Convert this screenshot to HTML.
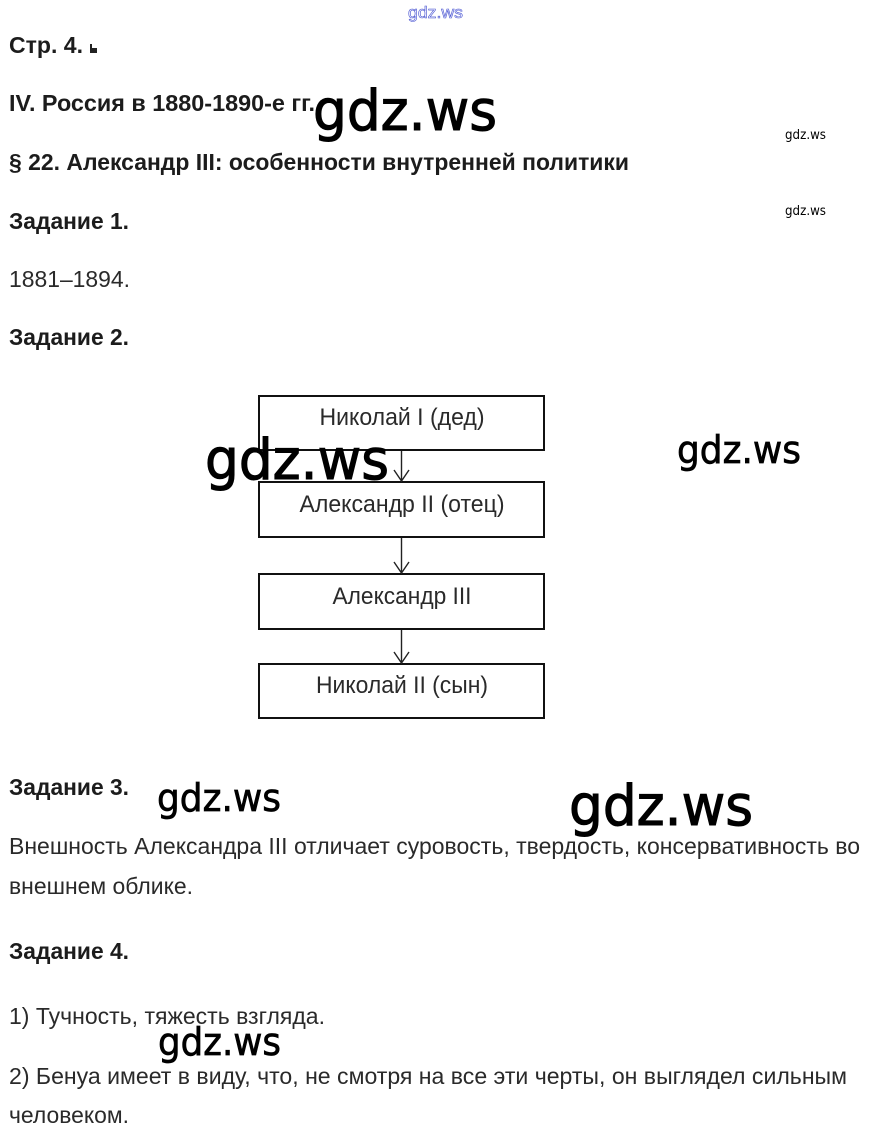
<!DOCTYPE html>
<html lang="ru">
<head>
<meta charset="utf-8">
<title>Александр III</title>
<style>
html,body{margin:0;padding:0;background:#fff;width:869px;height:1140px;overflow:hidden}
svg{display:block}
text{font-family:"Liberation Sans","DejaVu Sans",sans-serif;fill:#1c1c1c}
.b{font-weight:bold;font-size:23px}
.r{font-size:23px;fill:#2a2a2a}
.n{font-size:24px;fill:#2a2a2a;text-anchor:middle}
.w{font-family:"DejaVu Sans","Liberation Sans",sans-serif;fill:#000}
.wl{stroke:#000;stroke-width:1.1}
.wm{stroke:#000;stroke-width:.7}
.box{fill:#fff;stroke:#111;stroke-width:2}
.ln{fill:none;stroke:#222;stroke-width:1.4}
</style>
</head>
<body>
<svg width="869" height="1140" viewBox="0 0 869 1140" xmlns="http://www.w3.org/2000/svg">
<rect width="869" height="1140" fill="#fff"/>

<text x="408" y="18" font-size="17" textLength="55" lengthAdjust="spacingAndGlyphs" style="fill:#f2f3ff;stroke:#4a55d0;stroke-width:.6;font-family:'Liberation Sans',sans-serif">gdz.ws</text>

<text class="b" x="9" y="53" textLength="74" lengthAdjust="spacingAndGlyphs">Стр. 4.</text>
<rect x="90" y="44" width="2" height="9" fill="#222"/><rect x="90" y="48" width="7" height="5" fill="#222"/>
<text class="b" x="9" y="111" textLength="306" lengthAdjust="spacingAndGlyphs">IV. Россия в 1880-1890-е гг.</text>
<text class="b" x="9" y="170" textLength="620" lengthAdjust="spacingAndGlyphs">§ 22. Александр III: особенности внутренней политики</text>
<text class="b" x="9" y="229" textLength="120" lengthAdjust="spacingAndGlyphs">Задание 1.</text>
<text class="r" x="9" y="287" textLength="121" lengthAdjust="spacingAndGlyphs">1881–1894.</text>
<text class="b" x="9" y="345" textLength="120" lengthAdjust="spacingAndGlyphs">Задание 2.</text>

<rect class="box" x="259" y="396" width="285" height="54"/>
<rect class="box" x="259" y="482" width="285" height="55"/>
<rect class="box" x="259" y="574" width="285" height="55"/>
<rect class="box" x="259" y="664" width="285" height="54"/>

<text class="n" x="402" y="425" textLength="165" lengthAdjust="spacingAndGlyphs">Николай I (дед)</text>
<text class="n" x="402" y="512" textLength="205" lengthAdjust="spacingAndGlyphs">Александр II (отец)</text>
<text class="n" x="402" y="604" textLength="139" lengthAdjust="spacingAndGlyphs">Александр III</text>
<text class="n" x="402" y="693" textLength="172" lengthAdjust="spacingAndGlyphs">Николай II (сын)</text>

<path class="ln" d="M401.500 451V481M394 470L401.500 481L409 470"/>
<path class="ln" d="M401.500 538V573M394 562L401.500 573L409 562"/>
<path class="ln" d="M401.500 630V663M394 652L401.500 663L409 652"/>

<text class="b" x="9" y="795" textLength="120" lengthAdjust="spacingAndGlyphs">Задание 3.</text>
<text class="r" x="9" y="854" textLength="851" lengthAdjust="spacingAndGlyphs">Внешность Александра III отличает суровость, твердость, консервативность во</text>
<text class="r" x="9" y="894" textLength="184" lengthAdjust="spacingAndGlyphs">внешнем облике.</text>
<text class="b" x="9" y="959" textLength="120" lengthAdjust="spacingAndGlyphs">Задание 4.</text>
<text class="r" x="9" y="1024" textLength="316" lengthAdjust="spacingAndGlyphs">1) Тучность, тяжесть взгляда.</text>
<text class="r" x="9" y="1084" textLength="838" lengthAdjust="spacingAndGlyphs">2) Бенуа имеет в виду, что, не смотря на все эти черты, он выглядел сильным</text>
<text class="r" x="9" y="1123" textLength="120" lengthAdjust="spacingAndGlyphs">человеком.</text>

<text class="w wl" x="313" y="130" font-size="56" textLength="184" lengthAdjust="spacingAndGlyphs">gdz.ws</text>
<text class="w wl" x="205" y="479" font-size="56" textLength="184" lengthAdjust="spacingAndGlyphs">gdz.ws</text>
<text class="w wl" x="569" y="825" font-size="56" textLength="184" lengthAdjust="spacingAndGlyphs">gdz.ws</text>
<text class="w wm" x="677" y="463" font-size="38" textLength="124" lengthAdjust="spacingAndGlyphs">gdz.ws</text>
<text class="w wm" x="157" y="811" font-size="38" textLength="124" lengthAdjust="spacingAndGlyphs">gdz.ws</text>
<text class="w wm" x="158" y="1055" font-size="38" textLength="123" lengthAdjust="spacingAndGlyphs">gdz.ws</text>
<text class="w" x="785" y="139" font-size="13" textLength="41" lengthAdjust="spacingAndGlyphs">gdz.ws</text>
<text class="w" x="785" y="215" font-size="13" textLength="41" lengthAdjust="spacingAndGlyphs">gdz.ws</text>
</svg>
</body>
</html>
